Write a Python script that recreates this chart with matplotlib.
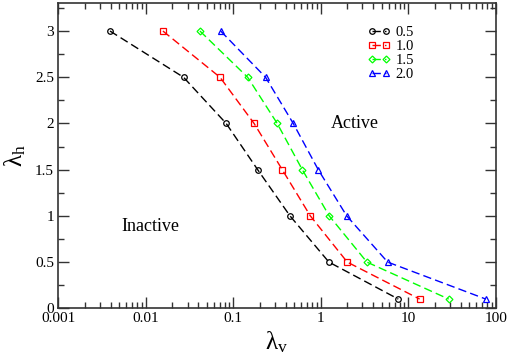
import matplotlib
matplotlib.use("Agg")
import matplotlib.pyplot as plt
from matplotlib.ticker import MultipleLocator, LogLocator, FixedFormatter

plt.rcParams['font.family'] = ['Liberation Serif', 'DejaVu Serif']
plt.rcParams['mathtext.fontset'] = 'custom'
plt.rcParams['mathtext.rm'] = 'Liberation Serif'
plt.rcParams['mathtext.it'] = 'Liberation Serif:italic'

lambda_h = [3.0, 2.5, 2.0, 1.5, 1.0, 0.5, 0.1]
x_05 = [0.0039, 0.027, 0.083, 0.19, 0.445, 1.24, 7.7]
x_10 = [0.0157, 0.0705, 0.173, 0.363, 0.76, 2.01, 13.5]
x_15 = [0.0416, 0.146, 0.318, 0.615, 1.25, 3.37, 29.0]
x_20 = [0.0718, 0.234, 0.485, 0.936, 1.98, 5.82, 77.0]
labels = ['0.5', '1.0', '1.5', '2.0']
colors = ['black', 'red', '#00ff00', 'blue']
markers = ['o', 's', 'D', '^']
msizes = [4, 4, 3.5, 4.5]

fig = plt.figure(figsize=(5.1, 3.59), dpi=100)
ax = fig.add_axes([0.1143, 0.1412, 0.972 - 0.1143, 0.9908 - 0.1412])

for xs, lab, c, m, ms in zip([x_05, x_10, x_15, x_20], labels, colors, markers, msizes):
    ax.plot(xs, lambda_h, linestyle=(0, (6, 3)), color=c, lw=1.0, marker=m,
            ms=ms, mfc='none', mec=c, mew=0.9, label=lab)

ax.set_xscale('log')
ax.set_xlim(0.001, 100)
ax.set_ylim(0, 3.3)
ax.set_xticks([0.001, 0.01, 0.1, 1, 10, 100])
ax.set_xticklabels(['0.001', '0.01', '0.1', '1', '10', '100'])
ax.xaxis.set_minor_locator(LogLocator(base=10, subs=range(2, 10), numticks=20))
ax.xaxis.set_minor_formatter(FixedFormatter([]))
ax.set_yticks([0, 0.5, 1, 1.5, 2, 2.5, 3])
ax.set_yticklabels(['0', '0.5', '1', '1.5', '2', '2.5', '3'])
ax.yaxis.set_minor_locator(MultipleLocator(0.25))

ax.tick_params(which='both', direction='in', top=True, right=True, labelsize=11, width=1.0, color='#333333')
ax.tick_params(which='major', length=8, pad=3)
ax.tick_params(which='minor', length=4)
for s in ax.spines.values():
    s.set_linewidth(1.2)
    s.set_color('#333333')

ax.set_xlabel(r'λ$_{\rm v}$', fontsize=18, labelpad=3)
ax.set_ylabel(r'λ$_{\rm h}$', fontsize=18, labelpad=5)

ax.text(2.46, 2.0, 'Active', fontsize=13, ha='center', va='center')
ax.text(0.0112, 0.88, 'Inactive', fontsize=13, ha='center', va='center')

ax.legend(loc='upper left', bbox_to_anchor=(0.70, 0.935), frameon=False, fontsize=10.5,
          handlelength=1.55, handletextpad=0.4, labelspacing=0.05, borderpad=0.2,
          numpoints=2, borderaxespad=0)

fig.savefig('out.png', dpi=100)
